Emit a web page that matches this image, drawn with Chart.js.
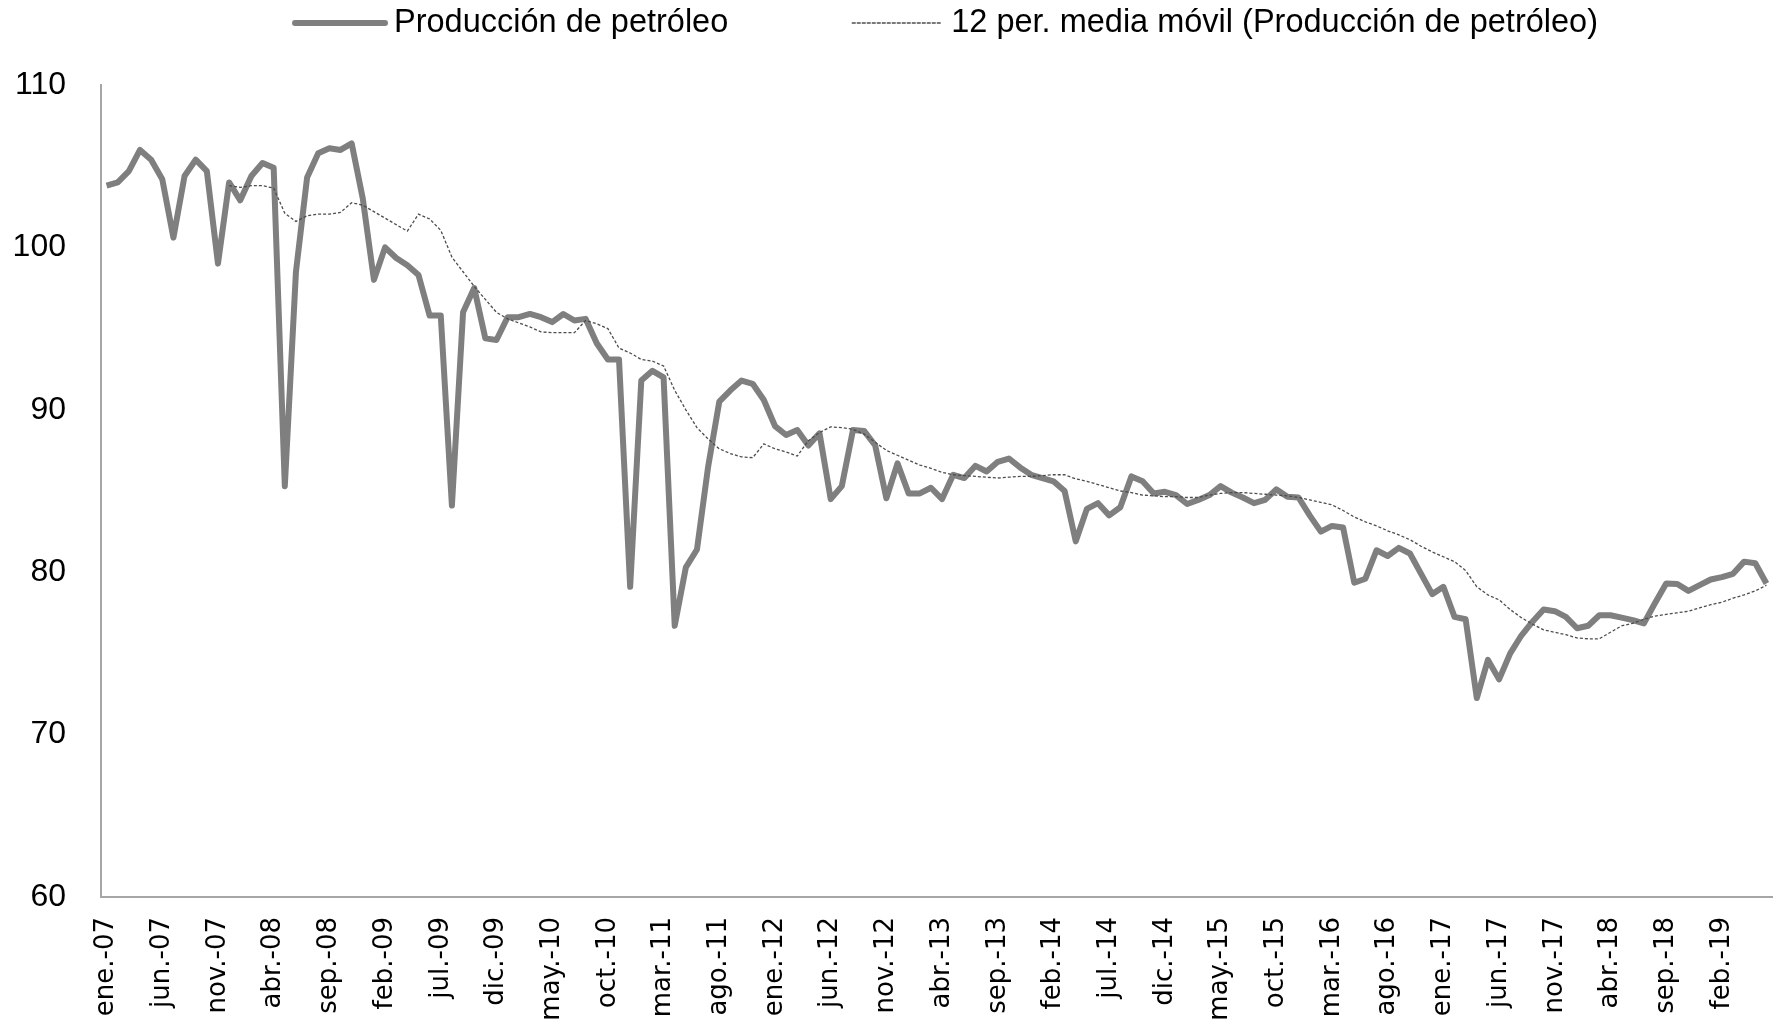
<!DOCTYPE html>
<html>
<head>
<meta charset="utf-8">
<title>Producción de petróleo</title>
<script src="https://cdn.jsdelivr.net/npm/chart.js@4.4.1/dist/chart.umd.min.js"></script>
<style>
  html, body { margin: 0; padding: 0; background: #ffffff; }
  #chart { display: block; }
</style>
</head>
<body>
<canvas id="chart" width="1781" height="1023"></canvas>
<script>
// Months shown on the axis (ene.-07 ... jun.-19)
var monthNames = ["ene.", "feb.", "mar.", "abr.", "may.", "jun.", "jul.", "ago.", "sep.", "oct.", "nov.", "dic."];
var startYear = 2007;
var monthCount = 150;
var labelEvery = 5;

// Producción de petróleo (index)
var produccion = [
  103.8, 104.0, 104.7, 106.0, 105.4, 104.2, 100.6, 104.4, 105.4, 104.7, 99.0, 104.0,
  102.9, 104.4, 105.2, 104.9, 85.3, 98.5, 104.3, 105.8, 106.1, 106.0, 106.4, 103.0,
  98.0, 100.0, 99.35, 98.9, 98.3, 95.8, 95.8, 84.1, 96.0, 97.5, 94.4, 94.3,
  95.7, 95.7, 95.9, 95.7, 95.4, 95.9, 95.5, 95.6, 94.1, 93.1, 93.1, 79.1,
  91.8, 92.4, 92.0, 76.7, 80.3, 81.4, 86.5, 90.5, 91.2, 91.8, 91.6, 90.6,
  89.0, 88.45, 88.75, 87.8, 88.55, 84.5, 85.3, 88.75, 88.7, 87.8, 84.55, 86.7,
  84.85, 84.85, 85.2, 84.5, 86.0, 85.8, 86.55, 86.2, 86.8, 87.0, 86.45, 86.0,
  85.8, 85.6, 85.0, 81.9, 83.9, 84.25, 83.5, 84.0, 85.9, 85.6, 84.85, 84.95,
  84.75, 84.2, 84.45, 84.75, 85.3, 84.9, 84.6, 84.25, 84.45, 85.1, 84.65, 84.6,
  83.5, 82.5, 82.85, 82.75, 79.35, 79.6, 81.35, 81.0, 81.5, 81.15, 79.9, 78.65,
  79.1, 77.25, 77.1, 72.25, 74.6, 73.4, 75.0, 76.1, 76.95, 77.7, 77.6, 77.25,
  76.55, 76.7, 77.35, 77.35, 77.2, 77.05, 76.85, 78.1, 79.3, 79.27, 78.85, 79.2,
  79.55, 79.7, 79.9, 80.65, 80.55, 79.3
];

// 12 per. media móvil
var mediaMovil = [
  null, null, null, null, null, null, null, null, null, null, null, 103.8,
  103.7, 103.8, 103.8, 103.65, 102.1, 101.6, 101.95, 102.05, 102.05, 102.15, 102.75, 102.6,
  102.2, 101.8, 101.4, 101.0, 102.05, 101.75, 101.05, 99.4, 98.5, 97.6, 96.8, 96.0,
  95.6, 95.35, 95.1, 94.8, 94.75, 94.75, 94.75, 95.5, 95.3, 95.0, 93.8, 93.5,
  93.1, 93.0, 92.7, 91.2, 90.0, 88.9, 88.2, 87.6, 87.3, 87.1, 87.05, 87.9,
  87.6, 87.4, 87.15, 88.1, 88.6, 88.95, 88.9, 88.8, 88.5, 88.0, 87.5, 87.2,
  86.9, 86.6, 86.4, 86.15, 86.0, 85.95, 85.9, 85.85, 85.8, 85.85, 85.9, 85.9,
  85.95, 86.0, 86.0, 85.75, 85.6, 85.4, 85.2, 85.0, 84.9, 84.75, 84.7, 84.65,
  84.65, 84.6, 84.6, 84.75, 84.85, 84.9, 84.9, 84.85, 84.8, 84.75, 84.7, 84.6,
  84.45, 84.3, 84.15, 83.8, 83.4, 83.1, 82.85, 82.55, 82.3, 82.0, 81.6, 81.25,
  80.95, 80.65, 80.1, 79.1, 78.6, 78.3, 77.7, 77.2, 76.8, 76.45, 76.3, 76.15,
  75.95, 75.9, 75.9, 76.3, 76.7, 76.85, 77.1, 77.3, 77.4, 77.5, 77.6, 77.8,
  78.0, 78.15, 78.4, 78.6, 78.85, 79.2
];

var yMin = 60, yMax = 110, yStep = 10;

var labels = [];
for (var i = 0; i < monthCount; i++) {
  var yy = (startYear + Math.floor(i / 12)) % 100;
  labels.push(monthNames[i % 12] + "-" + (yy < 10 ? "0" + yy : yy));
}

var legendFont = '32.5px "Liberation Sans", Arial, sans-serif';

// legend drawn on top, line sample + text, like the original
var topLegend = {
  id: "topLegend",
  afterDraw: function (chart) {
    var ctx = chart.ctx;
    var sets = chart.data.datasets;
    var sample = 90, gap = 9, between = 124;
    ctx.save();
    ctx.font = legendFont;
    var total = 0;
    var widths = sets.map(function (d) { return ctx.measureText(d.label).width; });
    widths.forEach(function (w) { total += sample + gap + w; });
    total += between * (sets.length - 1);
    var x = (chart.chartArea.left + chart.chartArea.right) / 2 + 10 - total / 2;
    var y = 23;
    sets.forEach(function (d, k) {
      ctx.beginPath();
      ctx.lineWidth = d.borderWidth;
      ctx.strokeStyle = d.borderColor;
      ctx.lineCap = "round";
      ctx.setLineDash(d.borderDash || []);
      ctx.moveTo(x, y);
      ctx.lineTo(x + sample, y);
      ctx.stroke();
      ctx.setLineDash([]);
      x += sample + gap;
      ctx.fillStyle = "#000000";
      ctx.textBaseline = "middle";
      ctx.textAlign = "left";
      ctx.fillText(d.label, x, y);
      x += widths[k] + between;
    });
    ctx.restore();
  }
};

var chart = new Chart(document.getElementById("chart"), {
  type: "line",
  data: {
    labels: labels,
    datasets: [
      {
        label: "Producción de petróleo",
        data: produccion,
        borderColor: "#7f7f7f",
        borderWidth: 6,
        borderJoinStyle: "round",
        pointRadius: 0,
        tension: 0,
        order: 2
      },
      {
        label: "12 per. media móvil (Producción de petróleo)",
        data: mediaMovil,
        borderColor: "#4d4d4d",
        borderWidth: 1.3,
        borderDash: [3, 2],
        pointRadius: 0,
        tension: 0,
        spanGaps: false,
        order: 1
      }
    ]
  },
  options: {
    responsive: false,
    devicePixelRatio: 1,
    animation: false,
    layout: { padding: { top: 85, right: 9, left: 0, bottom: 0 } },
    plugins: {
      legend: { display: false },
      tooltip: { enabled: false }
    },
    scales: {
      x: {
        offset: true,
        grid: { display: false, drawTicks: false },
        border: { display: true, color: "#a6a6a6", width: 2 },
        ticks: {
          autoSkip: false,
          minRotation: 90,
          maxRotation: 90,
          padding: 20,
          color: "#000000",
          font: { family: '"DejaVu Sans", Verdana, sans-serif', size: 26 },
          callback: function (value, index) {
            return index % labelEvery === 0 ? labels[index] : "";
          }
        },
        afterFit: function (scale) {
          scale.height = 126;
          scale.paddingLeft = 0;
          scale.paddingRight = 0;
        }
      },
      y: {
        min: yMin,
        max: yMax,
        grid: { display: false, drawTicks: false },
        border: { display: true, color: "#a6a6a6", width: 2 },
        ticks: {
          stepSize: yStep,
          padding: 35,
          color: "#000000",
          font: { family: '"Liberation Sans", Arial, sans-serif', size: 32 }
        },
        afterFit: function (scale) { scale.width = 101; }
      }
    }
  },
  plugins: [topLegend]
});
</script>
</body>
</html>
